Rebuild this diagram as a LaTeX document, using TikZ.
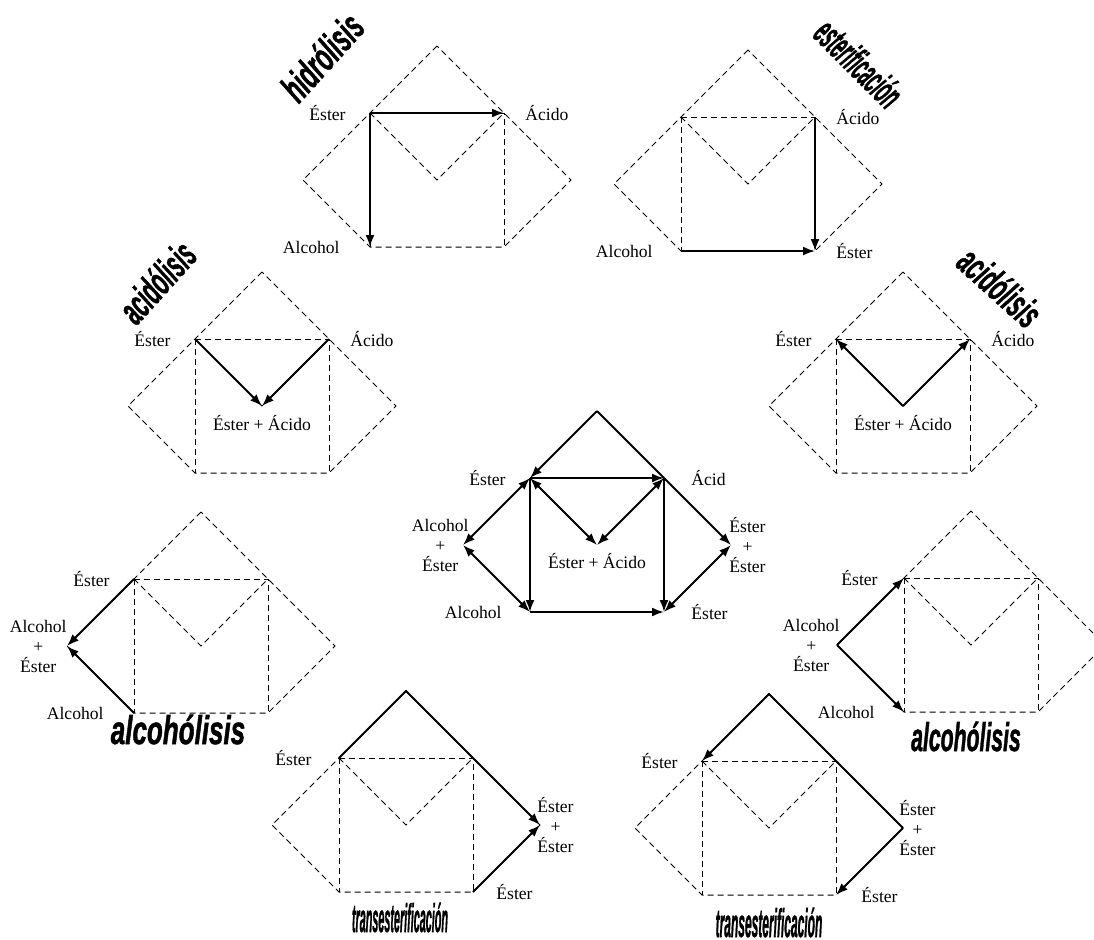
\documentclass[tikz,border=0pt]{standalone}
\usepackage{fontspec}
\setmainfont{Liberation Serif}
\newfontfamily\titlefont{Liberation Sans}[BoldItalicFeatures={FakeBold=1.5}]
\usetikzlibrary{arrows.meta}

\tikzset{
    skel/.style={dash pattern=on 3pt off 2pt, line width=0.5pt},
    rxn/.style={line width=1pt, -{Latex[length=6pt,width=4.5pt]}},
    rxnb/.style={line width=1pt, {Latex[length=6pt,width=4.5pt]}-{Latex[length=6pt,width=4.5pt]}},
    lab/.style={inner sep=0pt, font=\fontsize{8.8}{10}\selectfont, align=center},
    labl/.style={lab, anchor=east, xshift=-12pt},
    labr/.style={lab, anchor=west, xshift=10.5pt},
    ttl/.style={inner sep=0pt, font=\titlefont\bfseries\itshape\fontsize{20}{22}\selectfont},
}

\begin{document}
\begin{tikzpicture}[x=0.5pt, y=-0.5pt]
\useasboundingbox (0,0) rectangle (1094,939);

% corner points of each scheme
\foreach \n/\x/\y in {h/437/180, e/748/184, al/262/406, ar/903/406, c/597/545,
                      ol/201/646, or/971/645, tl/406/825, tr/769/828} {
    \coordinate (\n-C) at (\x,\y);
    \coordinate (\n-A) at (\x,\y-134);
    \coordinate (\n-L) at (\x-134,\y);
    \coordinate (\n-R) at (\x+134,\y);
    \coordinate (\n-TL) at (\x-67,\y-67);
    \coordinate (\n-TR) at (\x+67,\y-67);
    \coordinate (\n-BL) at (\x-67,\y+67);
    \coordinate (\n-BR) at (\x+67,\y+67);
}

% dashed frames
\foreach \n in {h,e,al,ar,ol,or,tl,tr} {
    \draw[skel] (\n-A) -- (\n-TL) -- (\n-L) -- (\n-BL) -- (\n-BR) -- (\n-R) -- (\n-TR) -- cycle;
    \draw[skel] (\n-TL) -- (\n-TR) -- (\n-BR);
    \draw[skel] (\n-TL) -- (\n-BL);
    \draw[skel] (\n-TL) -- (\n-C) -- (\n-TR);
}

% hidrolisis
\draw[rxn] (h-TL) -- (h-TR);
\draw[rxn] (h-TL) -- (h-BL);
\node[labl] (h-l1) at (h-TL) {Éster};
\node[labr] (h-l2) at (h-TR) {Ácido};
\node[labl, xshift=-3pt] (h-l3) at (h-BL) {Alcohol};
\node[ttl, rotate=48] (h-t) at (322,57) {\scalebox{.57}[1]{hidrólisis}};

% esterificacion
\draw[rxn] (e-TR) -- (e-BR);
\draw[rxn] (e-BL) -- (e-BR);
\node[labr] (e-l1) at (e-TR) {Ácido};
\node[labl, xshift=-2pt] (e-l2) at (e-BL) {Alcohol};
\node[labr] (e-l3) at (e-BR) {Éster};
\node[ttl, rotate=-45] (e-t) at (859,63) {\scalebox{.41}[1]{esterificación}};

% acidolisis (left)
\draw[rxn] (al-TL) -- (al-C);
\draw[rxn] (al-TR) -- (al-C);
\node[labl] (al-l1) at (al-TL) {Éster};
\node[labr] (al-l2) at (al-TR) {Ácido};
\node[lab] (al-l3) at ([yshift=-8.5pt]al-C) {Éster + Ácido};
\node[ttl, rotate=48] (al-t) at (157,282) {\scalebox{.51}[1]{acidólisis}};

% acidolisis (right)
\draw[rxn] (ar-C) -- (ar-TL);
\draw[rxn] (ar-C) -- (ar-TR);
\node[labl] (ar-l1) at (ar-TL) {Éster};
\node[labr] (ar-l2) at (ar-TR) {Ácido};
\node[lab] (ar-l3) at ([yshift=-8.5pt]ar-C) {Éster + Ácido};
\node[ttl, rotate=-42] (ar-t) at (1000,287) {\scalebox{.53}[1]{acidólisis}};

% all reactions together
\draw[rxn] (c-A) -- (c-TL);
\draw[rxn] (c-A) -- (c-R);
\draw[rxn] (c-TL) -- (c-TR);
\draw[rxn] (c-TL) -- (c-BL);
\draw[rxn] (c-TR) -- (c-BR);
\draw[rxn] (c-BL) -- (c-BR);
\draw[rxnb] (c-TL) -- (c-C);
\draw[rxnb] (c-TR) -- (c-C);
\draw[rxnb] (c-TL) -- (c-L);
\draw[rxnb] (c-L) -- (c-BL);
\draw[rxnb] (c-R) -- (c-BR);
\node[labl] (c-l1) at (c-TL) {Éster};
\node[labr, xshift=3pt] (c-l2) at (c-TR) {Ácid};
\node[lab, anchor=east, xshift=3pt] (c-l3) at (c-L) {Alcohol\\+\\Éster};
\node[lab, anchor=west, xshift=-1pt] (c-l4) at (c-R) {Éster\\+\\Éster};
\node[labl, xshift=-2pt] (c-l5) at (c-BL) {Alcohol};
\node[labr, xshift=3pt] (c-l6) at (c-BR) {Éster};
\node[lab] (c-l7) at ([yshift=-8pt]c-C) {Éster + Ácido};

% alcoholisis (left)
\draw[rxn] (ol-TL) -- (ol-L);
\draw[rxn] (ol-BL) -- (ol-L);
\node[labl] (ol-l1) at (ol-TL) {Éster};
\node[lab, anchor=east] (ol-l2) at (ol-L) {Alcohol\\+\\Éster};
\node[labl, xshift=-3pt] (ol-l3) at (ol-BL) {Alcohol};
\node[ttl, anchor=base] (ol-t) at (178,744) {\scalebox{.65}[1]{alcohólisis}};

% alcoholisis (right)
\draw[rxn] (or-L) -- (or-TL);
\draw[rxn] (or-L) -- (or-BL);
\node[labl, xshift=-1pt] (or-l1) at (or-TL) {Éster};
\node[lab, anchor=east, xshift=1.5pt] (or-l2) at (or-L) {Alcohol\\+\\Éster};
\node[labl, xshift=-2.5pt] (or-l3) at (or-BL) {Alcohol};
\node[ttl, anchor=base] (or-t) at (966,751) {\scalebox{.53}[1]{alcohólisis}};

% transesterificacion (left)
\draw[rxn] (tl-TL) -- (tl-A) -- (tl-R);
\draw[rxn] (tl-BR) -- (tl-R);
\node[labl, xshift=-1.5pt] (tl-l1) at (tl-TL) {Éster};
\node[lab, anchor=west, xshift=-1.5pt] (tl-l2) at (tl-R) {Éster\\+\\Éster};
\node[labr, xshift=1pt] (tl-l3) at (tl-BR) {Éster};
\node[ttl, anchor=base] (tl-t) at (400,932) {\scalebox{.27}[1]{transesterificación}};

% transesterificacion (right)
\draw[rxn] (tr-R) -- (tr-A) -- (tr-TL);
\draw[rxn] (tr-R) -- (tr-BR);
\node[labl] (tr-l1) at (tr-TL) {Éster};
\node[lab, anchor=west, xshift=-2pt] (tr-l2) at (tr-R) {Éster\\+\\Éster};
\node[labr, xshift=2pt] (tr-l3) at (tr-BR) {Éster};
\node[ttl, anchor=base] (tr-t) at (769,937) {\scalebox{.30}[1]{transesterificación}};
\end{tikzpicture}
\end{document}
